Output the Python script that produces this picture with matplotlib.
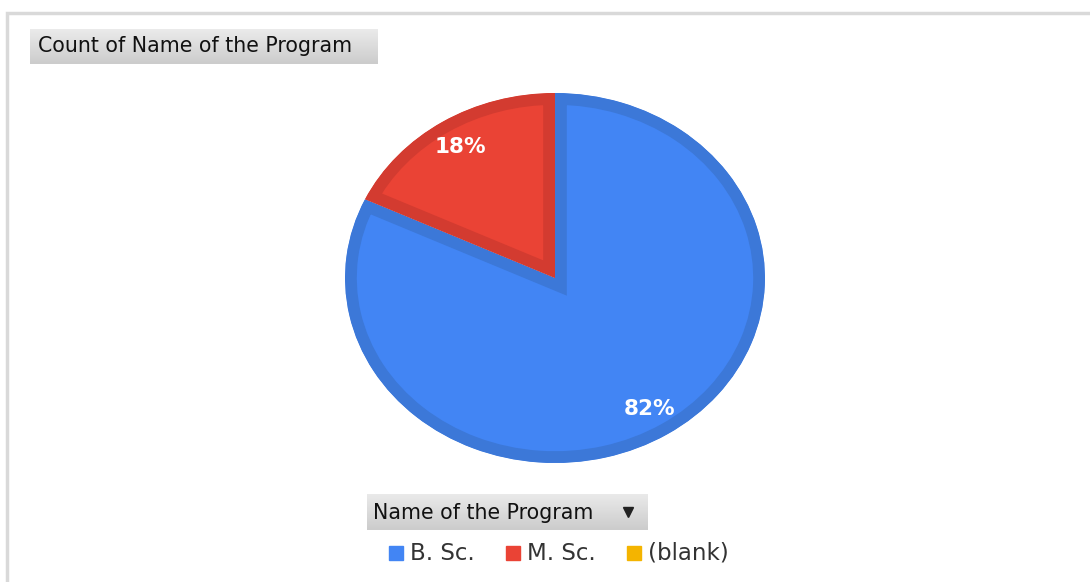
import numpy as np
import matplotlib
matplotlib.use("Agg")
import matplotlib.pyplot as plt
from matplotlib.patches import Rectangle, Wedge

# data
programs = ["B. Sc.", "M. Sc.", "(blank)"]
shares = [82, 18, 0]
fill_colors = ["#4285f4", "#ea4335", "#f4b400"]
edge_colors = ["#3c78d8", "#d33b30", "#e0a800"]
chart_title = "Count of Name of the Program"
field_name = "Name of the Program"

W, H = 1090, 582
fig = plt.figure(figsize=(W / 100, H / 100), dpi=100)


def px_box(x0, y0, x1, y1):
    # pixel box (top-left origin) -> figure fraction rect
    return [x0 / W, 1 - y1 / H, (x1 - x0) / W, (y1 - y0) / H]


# outer frame
fig.patches.append(Rectangle((7 / W, -0.01), 1.1, 1 - 13 / H + 0.01,
                             transform=fig.transFigure, fill=False,
                             edgecolor="#d9d9d9", linewidth=2.5))


def gray_button(x0, y0, x1, y1):
    bax = fig.add_axes(px_box(x0, y0, x1, y1))
    grad = np.linspace(0.92, 0.80, 50).reshape(-1, 1)
    bax.imshow(np.dstack([grad, grad, grad]), aspect="auto", extent=[0, 1, 0, 1])
    bax.set_xlim(0, 1)
    bax.set_ylim(0, 1)
    bax.axis("off")
    return bax


tax = gray_button(30, 29, 378, 64)
tax.text(8 / 348, 0.5, chart_title, fontsize=14.8, family="DejaVu Sans",
         color="#111111", va="center", ha="left")

fax = gray_button(367, 494, 648, 530)
fax.text(6 / 281, 0.47, field_name, fontsize=14.8, family="DejaVu Sans",
         color="#111111", va="center", ha="left")
fax.plot([261 / 281], [0.5], marker="v", color="#222222", markersize=7)

# pie (stretched into an ellipse); zero slices are left out of the drawing
ax = fig.add_axes(px_box(345, 93, 765, 463))
vals = [v for v in shares if v > 0]
cols = [c for v, c in zip(shares, fill_colors) if v > 0]
ecols = [c for v, c in zip(shares, edge_colors) if v > 0]

wedges, texts, autotexts = ax.pie(vals, colors=cols, startangle=90,
                                  counterclock=False, autopct="%d%%",
                                  pctdistance=0.84, radius=1,
                                  textprops=dict(color="white", fontsize=15.5,
                                                 fontweight="bold",
                                                 family="DejaVu Sans"))
for w, ec in zip(wedges, ecols):
    w.set_edgecolor(ec)
    w.set_linewidth(17)
    # keep only the inner half of the stroke
    clip = Wedge(w.center, w.r, w.theta1, w.theta2, transform=ax.transData)
    w.set_clip_path(clip)
    w.set_clip_on(True)
ax.set_aspect("auto")
ax.set_xlim(-1, 1)
ax.set_ylim(-1, 1)
ax.axis("off")

# legend
lx = [389, 506, 627]
for x, name, c in zip(lx, programs, fill_colors):
    fig.patches.append(Rectangle((x / W, 1 - 560 / H), 14 / W, 14 / H,
                                 transform=fig.transFigure, color=c))
    fig.text((x + 21) / W, 1 - 553 / H, name, fontsize=16.5,
             family="DejaVu Sans", color="#333333", va="center")

fig.savefig("out.png", dpi=100)
